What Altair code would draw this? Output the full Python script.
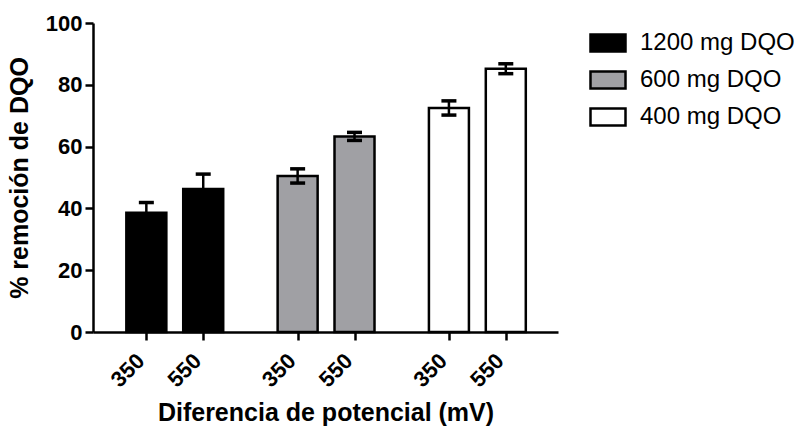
import altair as alt
import pandas as pd

groups = ["1200 mg DQO", "600 mg DQO", "400 mg DQO"]
voltages = ["350", "550"]
means = [38.6, 46.3, 50.5, 63.3, 72.5, 85.2]
errors = [3.3, 4.8, 2.3, 1.3, 2.3, 1.6]
fills = ["#000000", "#a0a0a4", "#ffffff"]

# slot positions on the category axis: two bars per group, gap between groups
first_slot = 0.85
group_step = 2.66
rows = []
for gi, g in enumerate(groups):
    for vi, v in enumerate(voltages):
        k = gi * len(voltages) + vi
        rows.append({
            "grupo": g,
            "voltaje": v,
            "pos": round(first_slot + gi * group_step + vi, 3),
            "media": means[k],
            "lo": means[k] - errors[k],
            "hi": means[k] + errors[k],
        })
df = pd.DataFrame(rows)

tick_vals = list(df["pos"])
label_expr = " : ".join(
    f"abs(datum.value - {p}) < 0.01 ? '{v}'" for p, v in zip(df["pos"], df["voltaje"])
) + " : ''"

font = "Liberation Sans"

x = alt.X(
    "pos:Q",
    scale=alt.Scale(domain=[0, 8], nice=False, zero=False),
    axis=alt.Axis(
        values=tick_vals,
        labelExpr=label_expr,
        labelAngle=-45,
        labelAlign="right",
        labelBaseline="middle",
        labelPadding=17,
        labelOffset=-6,
        title="Diferencia de potencial (mV)",
        titlePadding=10,
    ),
)
y = alt.Y(
    "media:Q",
    scale=alt.Scale(domain=[0, 100], nice=False),
    axis=alt.Axis(values=[0, 20, 40, 60, 80, 100], title="% remoción de DQO",
                  titlePadding=13, labelPadding=3),
)

bars = alt.Chart(df).mark_bar(
    size=40, stroke="black", strokeWidth=2.5, orient="vertical"
).encode(
    x=x,
    y=y,
    fill=alt.Fill(
        "grupo:N",
        scale=alt.Scale(domain=groups, range=fills),
        sort=groups,
        legend=alt.Legend(
            title=None,
            orient="none",
            legendX=496,
            legendY=1,
            symbolType="M-1,-0.49H1V0.49H-1Z",
            symbolSize=1225,
            symbolStrokeColor="black",
            symbolStrokeWidth=2.5,
            symbolOpacity=1,
            labelFont=font,
            labelFontSize=24,
            labelColor="black",
            labelOffset=13,
            rowPadding=4,
            padding=0,
        ),
    ),
)

err = alt.Chart(df).mark_rule(color="black", strokeWidth=2.5).encode(
    x="pos:Q", y="lo:Q", y2="hi:Q"
)
caps_hi = alt.Chart(df).mark_tick(
    color="black", orient="horizontal", size=15, thickness=3.5, opacity=1
).encode(x="pos:Q", y="hi:Q")
caps_lo = alt.Chart(df).mark_tick(
    color="black", orient="horizontal", size=15, thickness=3.5, opacity=1
).encode(x="pos:Q", y="lo:Q")

chart = alt.layer(bars, err, caps_lo, caps_hi).properties(
    width=465,
    height=309,
    autosize=alt.AutoSizeParams(type="none"),
    padding={"left": 93, "top": 23, "right": 247, "bottom": 94},
    background="white",
).configure_view(stroke=None).configure_axis(
    grid=False,
    domainColor="black",
    domainWidth=2.5,
    tickColor="black",
    tickWidth=2.5,
    tickSize=8,
    labelFont=font,
    labelFontWeight="bold",
    labelFontSize=22,
    labelColor="black",
    titleFont=font,
    titleFontWeight="bold",
    titleFontSize=25,
    titleColor="black",
)

chart.save("out.html", embed_options={"renderer": "svg", "actions": False})
